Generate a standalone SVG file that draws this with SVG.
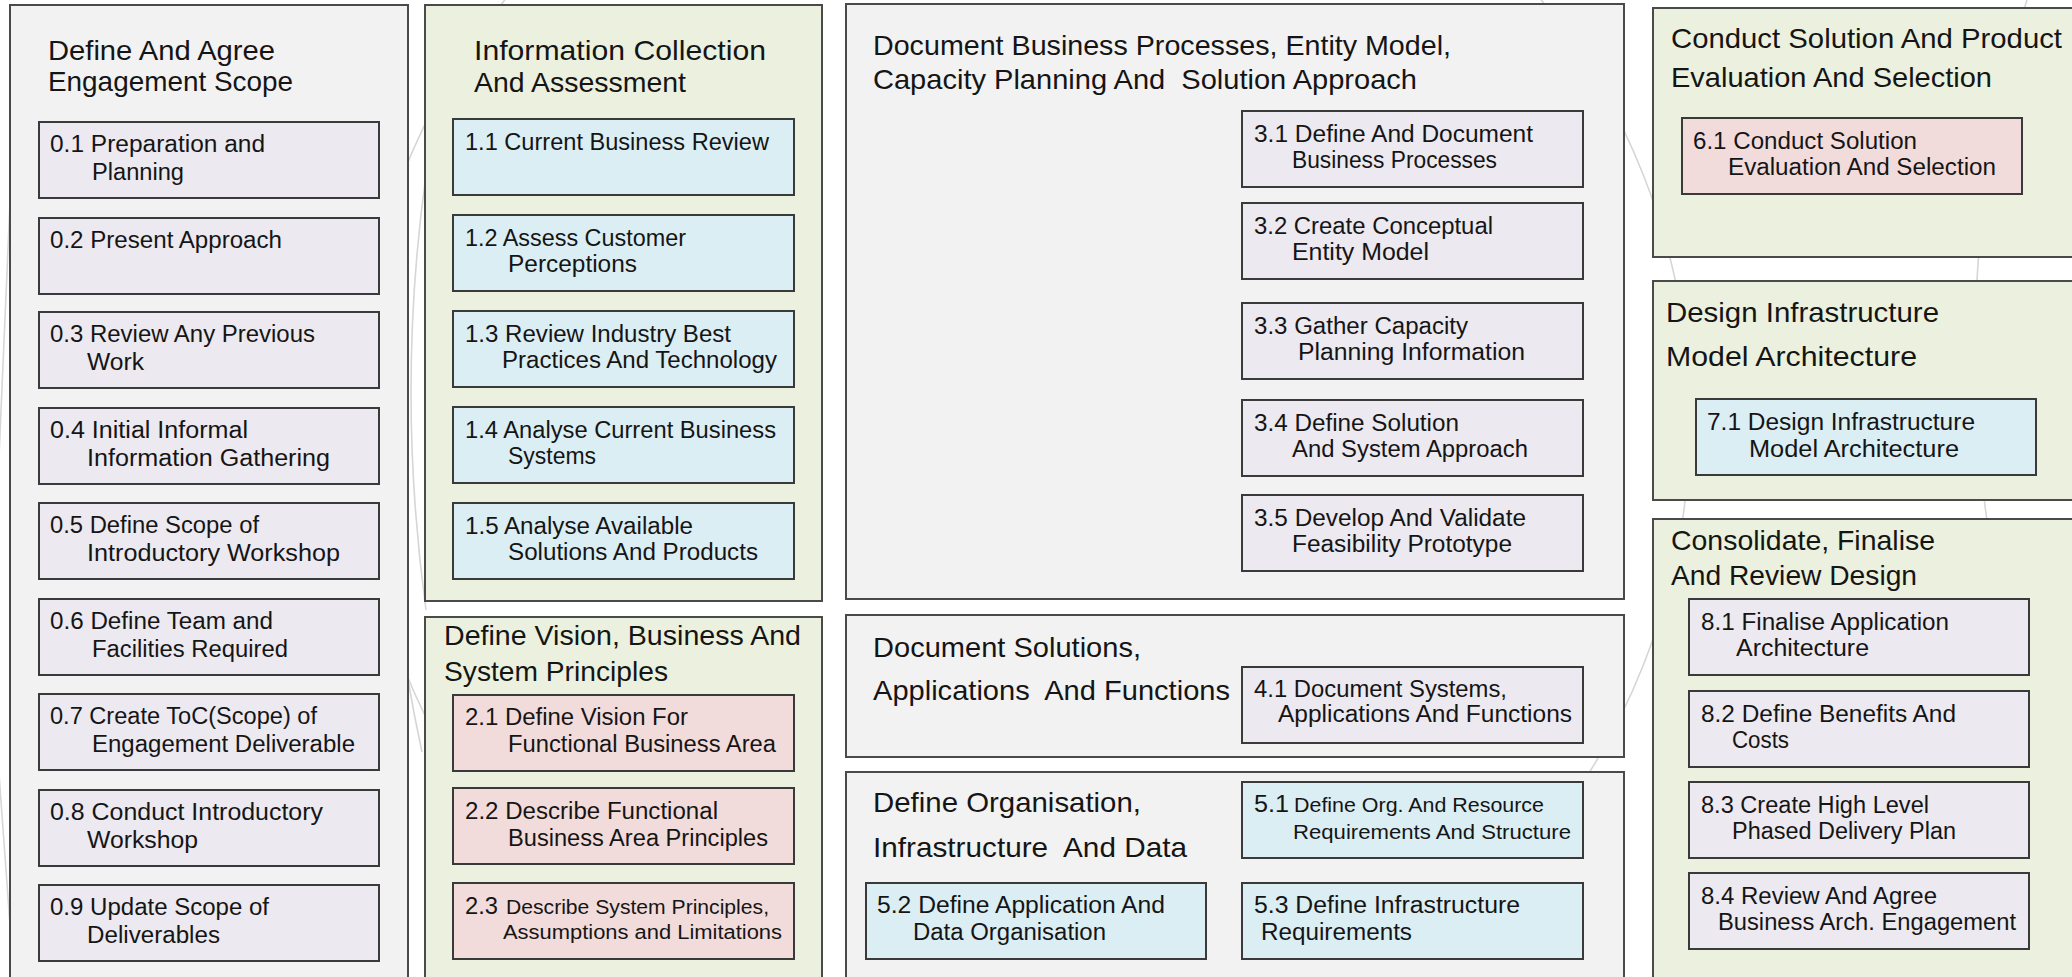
<svg xmlns="http://www.w3.org/2000/svg" width="2072" height="977" viewBox="0 0 2072 977">
<style>
.bg{fill:#ffffff}
.deco{fill:none;stroke:#d6d6d6;stroke-width:1.6}
.cg{fill:#f2f2f2;stroke:#4a4a4a;stroke-width:2}
.cgr{fill:#ebf1de;stroke:#4a4a4a;stroke-width:2}
.bl{fill:#ece9f0;stroke:#3a3a3a;stroke-width:2}
.bb{fill:#dbeef4;stroke:#3a3a3a;stroke-width:2}
.bp{fill:#f2dcdb;stroke:#3a3a3a;stroke-width:2}
text{font-family:"Liberation Sans",Arial,sans-serif;fill:#151515}
.t{font-size:28px}
.b{font-size:23.5px}
.s{font-size:20px}
</style>
<rect class="bg" x="0" y="0" width="2072" height="977"/>
<g id="background-arcs">
<circle class="deco" cx="1023" cy="420" r="667"/>
<circle class="deco" cx="3179" cy="350" r="1204"/>
<path class="deco" d="M426 175 Q396 390 426 610"/>
<path class="deco" d="M408 680 Q414 715 422 752"/>
<path class="deco" d="M14 110 Q6 300 -2 480"/>
<path class="deco" d="M-2 760 Q6 870 14 980"/>
</g>
<g id="connectors"></g>

<g id="phase0">
<rect class="cg" x="10" y="5" width="398" height="985"/>
<text class="t" x="48" y="60" textLength="227" lengthAdjust="spacingAndGlyphs">Define And Agree</text>
<text class="t" x="48" y="91" textLength="245" lengthAdjust="spacingAndGlyphs">Engagement Scope</text>
</g>
<g id="n0-1"><rect class="bl" x="39" y="122" width="340" height="76"/>
<text class="b" x="50" y="152" textLength="215" lengthAdjust="spacingAndGlyphs">0.1 Preparation and</text>
<text class="b" x="92" y="180" textLength="92" lengthAdjust="spacingAndGlyphs">Planning</text></g>
<g id="n0-2"><rect class="bl" x="39" y="218" width="340" height="76"/>
<text class="b" x="50" y="248" textLength="232" lengthAdjust="spacingAndGlyphs">0.2 Present Approach</text></g>
<g id="n0-3"><rect class="bl" x="39" y="312" width="340" height="76"/>
<text class="b" x="50" y="342" textLength="265" lengthAdjust="spacingAndGlyphs">0.3 Review Any Previous</text>
<text class="b" x="87" y="370" textLength="57" lengthAdjust="spacingAndGlyphs">Work</text></g>
<g id="n0-4"><rect class="bl" x="39" y="408" width="340" height="76"/>
<text class="b" x="50" y="438" textLength="198" lengthAdjust="spacingAndGlyphs">0.4 Initial Informal</text>
<text class="b" x="87" y="466" textLength="243" lengthAdjust="spacingAndGlyphs">Information Gathering</text></g>
<g id="n0-5"><rect class="bl" x="39" y="503" width="340" height="76"/>
<text class="b" x="50" y="533" textLength="209" lengthAdjust="spacingAndGlyphs">0.5 Define Scope of</text>
<text class="b" x="87" y="561" textLength="253" lengthAdjust="spacingAndGlyphs">Introductory Workshop</text></g>
<g id="n0-6"><rect class="bl" x="39" y="599" width="340" height="76"/>
<text class="b" x="50" y="629" textLength="223" lengthAdjust="spacingAndGlyphs">0.6 Define Team and</text>
<text class="b" x="92" y="657" textLength="196" lengthAdjust="spacingAndGlyphs">Facilities Required</text></g>
<g id="n0-7"><rect class="bl" x="39" y="694" width="340" height="76"/>
<text class="b" x="50" y="724" textLength="267" lengthAdjust="spacingAndGlyphs">0.7 Create ToC(Scope) of</text>
<text class="b" x="92" y="752" textLength="263" lengthAdjust="spacingAndGlyphs">Engagement Deliverable</text></g>
<g id="n0-8"><rect class="bl" x="39" y="790" width="340" height="76"/>
<text class="b" x="50" y="820" textLength="273" lengthAdjust="spacingAndGlyphs">0.8 Conduct Introductory</text>
<text class="b" x="87" y="848" textLength="111" lengthAdjust="spacingAndGlyphs">Workshop</text></g>
<g id="n0-9"><rect class="bl" x="39" y="885" width="340" height="76"/>
<text class="b" x="50" y="915" textLength="219" lengthAdjust="spacingAndGlyphs">0.9 Update Scope of</text>
<text class="b" x="87" y="943" textLength="133" lengthAdjust="spacingAndGlyphs">Deliverables</text></g>

<g id="phase1">
<rect class="cgr" x="425" y="5" width="397" height="596"/>
<text class="t" x="474" y="60" textLength="292" lengthAdjust="spacingAndGlyphs">Information Collection</text>
<text class="t" x="474" y="92" textLength="212" lengthAdjust="spacingAndGlyphs">And Assessment</text>
</g>
<g id="n1-1"><rect class="bb" x="453" y="119" width="341" height="76"/>
<text class="b" x="465" y="150" textLength="304" lengthAdjust="spacingAndGlyphs">1.1 Current Business Review</text></g>
<g id="n1-2"><rect class="bb" x="453" y="215" width="341" height="76"/>
<text class="b" x="465" y="246" textLength="221" lengthAdjust="spacingAndGlyphs">1.2 Assess Customer</text>
<text class="b" x="508" y="272" textLength="129" lengthAdjust="spacingAndGlyphs">Perceptions</text></g>
<g id="n1-3"><rect class="bb" x="453" y="311" width="341" height="76"/>
<text class="b" x="465" y="342" textLength="266" lengthAdjust="spacingAndGlyphs">1.3 Review Industry Best</text>
<text class="b" x="502" y="368" textLength="275" lengthAdjust="spacingAndGlyphs">Practices And Technology</text></g>
<g id="n1-4"><rect class="bb" x="453" y="407" width="341" height="76"/>
<text class="b" x="465" y="438" textLength="311" lengthAdjust="spacingAndGlyphs">1.4 Analyse Current Business</text>
<text class="b" x="508" y="464" textLength="88" lengthAdjust="spacingAndGlyphs">Systems</text></g>
<g id="n1-5"><rect class="bb" x="453" y="503" width="341" height="76"/>
<text class="b" x="465" y="534" textLength="228" lengthAdjust="spacingAndGlyphs">1.5 Analyse Available</text>
<text class="b" x="508" y="560" textLength="250" lengthAdjust="spacingAndGlyphs">Solutions And Products</text></g>

<g id="phase2">
<rect class="cgr" x="425" y="617" width="397" height="373"/>
<text class="t" x="444" y="645" textLength="357" lengthAdjust="spacingAndGlyphs">Define Vision, Business And</text>
<text class="t" x="444" y="681" textLength="224" lengthAdjust="spacingAndGlyphs">System Principles</text>
</g>
<g id="n2-1"><rect class="bp" x="453" y="695" width="341" height="76"/>
<text class="b" x="465" y="725" textLength="223" lengthAdjust="spacingAndGlyphs">2.1 Define Vision For</text>
<text class="b" x="508" y="752" textLength="268" lengthAdjust="spacingAndGlyphs">Functional Business Area</text></g>
<g id="n2-2"><rect class="bp" x="453" y="788" width="341" height="76"/>
<text class="b" x="465" y="819" textLength="253" lengthAdjust="spacingAndGlyphs">2.2 Describe Functional</text>
<text class="b" x="508" y="846" textLength="260" lengthAdjust="spacingAndGlyphs">Business Area Principles</text></g>
<g id="n2-3"><rect class="bp" x="453" y="883" width="341" height="76"/>
<text class="b" x="465" y="914" textLength="33" lengthAdjust="spacingAndGlyphs">2.3</text>
<text class="s" x="506" y="914" textLength="263" lengthAdjust="spacingAndGlyphs">Describe System Principles,</text>
<text class="s" x="503" y="939" textLength="279" lengthAdjust="spacingAndGlyphs">Assumptions and Limitations</text></g>

<g id="phase3">
<rect class="cg" x="846" y="4" width="778" height="595"/>
<text class="t" x="873" y="55" textLength="578" lengthAdjust="spacingAndGlyphs">Document Business Processes, Entity Model,</text>
<text class="t" x="873" y="89" textLength="544" lengthAdjust="spacingAndGlyphs" xml:space="preserve">Capacity Planning And  Solution Approach</text>
</g>
<g id="n3-1"><rect class="bl" x="1242" y="111" width="341" height="76"/>
<text class="b" x="1254" y="142" textLength="279" lengthAdjust="spacingAndGlyphs">3.1 Define And Document</text>
<text class="b" x="1292" y="168" textLength="205" lengthAdjust="spacingAndGlyphs">Business Processes</text></g>
<g id="n3-2"><rect class="bl" x="1242" y="203" width="341" height="76"/>
<text class="b" x="1254" y="234" textLength="239" lengthAdjust="spacingAndGlyphs">3.2 Create Conceptual</text>
<text class="b" x="1292" y="260" textLength="137" lengthAdjust="spacingAndGlyphs">Entity Model</text></g>
<g id="n3-3"><rect class="bl" x="1242" y="303" width="341" height="76"/>
<text class="b" x="1254" y="334" textLength="214" lengthAdjust="spacingAndGlyphs">3.3 Gather Capacity</text>
<text class="b" x="1298" y="360" textLength="227" lengthAdjust="spacingAndGlyphs">Planning Information</text></g>
<g id="n3-4"><rect class="bl" x="1242" y="400" width="341" height="76"/>
<text class="b" x="1254" y="431" textLength="205" lengthAdjust="spacingAndGlyphs">3.4 Define Solution</text>
<text class="b" x="1292" y="457" textLength="236" lengthAdjust="spacingAndGlyphs">And System Approach</text></g>
<g id="n3-5"><rect class="bl" x="1242" y="495" width="341" height="76"/>
<text class="b" x="1254" y="526" textLength="272" lengthAdjust="spacingAndGlyphs">3.5 Develop And Validate</text>
<text class="b" x="1292" y="552" textLength="220" lengthAdjust="spacingAndGlyphs">Feasibility Prototype</text></g>

<g id="phase4">
<rect class="cg" x="846" y="615" width="778" height="142"/>
<text class="t" x="873" y="657" textLength="268" lengthAdjust="spacingAndGlyphs">Document Solutions,</text>
<text class="t" x="873" y="700" textLength="357" lengthAdjust="spacingAndGlyphs" xml:space="preserve">Applications  And Functions</text>
</g>
<g id="n4-1"><rect class="bl" x="1242" y="667" width="341" height="76"/>
<text class="b" x="1254" y="697" textLength="253" lengthAdjust="spacingAndGlyphs">4.1 Document Systems,</text>
<text class="b" x="1278" y="722" textLength="294" lengthAdjust="spacingAndGlyphs">Applications And Functions</text></g>

<g id="phase5">
<rect class="cg" x="846" y="772" width="778" height="218"/>
<text class="t" x="873" y="812" textLength="268" lengthAdjust="spacingAndGlyphs">Define Organisation,</text>
<text class="t" x="873" y="857" textLength="314" lengthAdjust="spacingAndGlyphs" xml:space="preserve">Infrastructure  And Data</text>
</g>
<g id="n5-1"><rect class="bb" x="1242" y="782" width="341" height="76"/>
<text class="b" x="1254" y="812" textLength="35" lengthAdjust="spacingAndGlyphs">5.1</text>
<text class="s" x="1294" y="812" textLength="250" lengthAdjust="spacingAndGlyphs">Define Org. And Resource</text>
<text class="s" x="1293" y="839" textLength="278" lengthAdjust="spacingAndGlyphs">Requirements And Structure</text></g>
<g id="n5-2"><rect class="bb" x="866" y="883" width="340" height="76"/>
<text class="b" x="877" y="913" textLength="288" lengthAdjust="spacingAndGlyphs">5.2 Define Application And</text>
<text class="b" x="913" y="940" textLength="193" lengthAdjust="spacingAndGlyphs">Data Organisation</text></g>
<g id="n5-3"><rect class="bb" x="1242" y="883" width="341" height="76"/>
<text class="b" x="1254" y="913" textLength="266" lengthAdjust="spacingAndGlyphs">5.3 Define Infrastructure</text>
<text class="b" x="1261" y="940" textLength="151" lengthAdjust="spacingAndGlyphs">Requirements</text></g>

<g id="phase6">
<rect class="cgr" x="1653" y="8" width="430" height="249"/>
<text class="t" x="1671" y="48" textLength="391" lengthAdjust="spacingAndGlyphs">Conduct Solution And Product</text>
<text class="t" x="1671" y="87" textLength="321" lengthAdjust="spacingAndGlyphs">Evaluation And Selection</text>
</g>
<g id="n6-1"><rect class="bp" x="1682" y="118" width="340" height="76"/>
<text class="b" x="1693" y="149" textLength="224" lengthAdjust="spacingAndGlyphs">6.1 Conduct Solution</text>
<text class="b" x="1728" y="175" textLength="268" lengthAdjust="spacingAndGlyphs">Evaluation And Selection</text></g>

<g id="phase7">
<rect class="cgr" x="1653" y="281" width="430" height="219"/>
<text class="t" x="1666" y="322" textLength="273" lengthAdjust="spacingAndGlyphs">Design Infrastructure</text>
<text class="t" x="1666" y="366" textLength="251" lengthAdjust="spacingAndGlyphs">Model Architecture</text>
</g>
<g id="n7-1"><rect class="bb" x="1696" y="399" width="340" height="76"/>
<text class="b" x="1707" y="430" textLength="268" lengthAdjust="spacingAndGlyphs">7.1 Design Infrastructure</text>
<text class="b" x="1749" y="457" textLength="210" lengthAdjust="spacingAndGlyphs">Model Architecture</text></g>

<g id="phase8">
<rect class="cgr" x="1653" y="519" width="430" height="471"/>
<text class="t" x="1671" y="550" textLength="264" lengthAdjust="spacingAndGlyphs">Consolidate, Finalise</text>
<text class="t" x="1671" y="585" textLength="246" lengthAdjust="spacingAndGlyphs">And Review Design</text>
</g>
<g id="n8-1"><rect class="bl" x="1689" y="599" width="340" height="76"/>
<text class="b" x="1701" y="630" textLength="248" lengthAdjust="spacingAndGlyphs">8.1 Finalise Application</text>
<text class="b" x="1736" y="656" textLength="133" lengthAdjust="spacingAndGlyphs">Architecture</text></g>
<g id="n8-2"><rect class="bl" x="1689" y="691" width="340" height="76"/>
<text class="b" x="1701" y="722" textLength="255" lengthAdjust="spacingAndGlyphs">8.2 Define Benefits And</text>
<text class="b" x="1732" y="748" textLength="57" lengthAdjust="spacingAndGlyphs">Costs</text></g>
<g id="n8-3"><rect class="bl" x="1689" y="782" width="340" height="76"/>
<text class="b" x="1701" y="813" textLength="228" lengthAdjust="spacingAndGlyphs">8.3 Create High Level</text>
<text class="b" x="1732" y="839" textLength="224" lengthAdjust="spacingAndGlyphs">Phased Delivery Plan</text></g>
<g id="n8-4"><rect class="bl" x="1689" y="873" width="340" height="76"/>
<text class="b" x="1701" y="904" textLength="236" lengthAdjust="spacingAndGlyphs">8.4 Review And Agree</text>
<text class="b" x="1718" y="930" textLength="298" lengthAdjust="spacingAndGlyphs">Business Arch. Engagement</text></g>
</svg>
